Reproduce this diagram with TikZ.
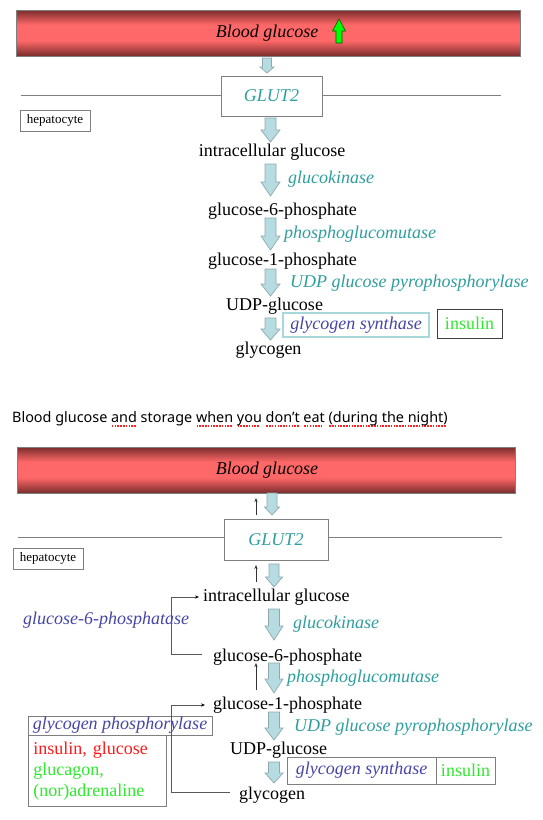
\documentclass[tikz,border=0pt]{standalone}
\usepackage{fontspec}
\setmainfont{Liberation Serif}
\newfontfamily\tms{Liberation Serif}
\newfontfamily\uifont{Noto Sans}
\usetikzlibrary{arrows.meta}
\definecolor{teal2}{HTML}{2E9E9E}
\definecolor{enz}{HTML}{4646A6}
\definecolor{ins}{HTML}{2EEA2E}
\definecolor{inh}{HTML}{FF1A1A}
\definecolor{arrfill}{HTML}{B6DCE1}
\definecolor{arrdraw}{HTML}{8EA9AE}
\definecolor{bardark}{HTML}{7A2C2C}
\definecolor{barlight}{HTML}{FF6868}
\definecolor{boxgray}{HTML}{7F7F7F}
\definecolor{gsblue}{HTML}{A8D8DC}
\definecolor{squig}{HTML}{FF2020}
\pgfdeclareverticalshading{redbar}{100bp}{color(0bp)=(bardark); color(25bp)=(bardark); color(42bp)=(barlight); color(59bp)=(barlight); color(75bp)=(bardark); color(100bp)=(bardark)}
\newcommand\barw[6]{\draw[barr] (#1-#4,#2) -- (#1+#4,#2) -- (#1+#4,#3-#6) -- (#1+#5,#3-#6) -- (#1,#3) -- (#1-#5,#3-#6) -- (#1-#4,#3-#6) -- cycle;}
\newcommand\sq[1]{\setbox0\hbox{#1}\rlap{\raisebox{-4.5pt}{\leaders\hbox to 2.8pt{\hss\textcolor{squig}{\rule{1.5pt}{1.5pt}}\hss}\hskip\wd0}}\box0\relax}
\begin{document}
\begin{tikzpicture}[x=1pt,y=-1pt,
  lbl/.style={inner sep=0pt, font=\tms\fontsize{18}{21}\selectfont},
  enzt/.style={inner sep=0pt, text=teal2, font=\tms\fontsize{18}{21}\selectfont\itshape},
  enzb/.style={inner sep=0pt, text=enz, font=\tms\fontsize{18}{21}\selectfont\itshape},
  barr/.style={fill=arrfill, draw=arrdraw, line width=0.7pt},
  bloodbar/.style={shading=redbar, draw=boxgray, line width=0.5pt, minimum height=46pt, inner sep=0pt, font=\tms\fontsize{18}{21}\selectfont\itshape, text=black},
  gbox/.style={draw=boxgray, fill=white, line width=0.7pt, inner sep=0pt, text=teal2, font=\tms\fontsize{18}{21}\selectfont\itshape},
  hbox/.style={draw=boxgray, line width=0.7pt, inner sep=0pt, minimum width=70pt, minimum height=21pt, font=\tms\fontsize{13}{15}\selectfont},
  memb/.style={draw=boxgray, line width=0.8pt},
  thinarr/.style={draw=black!80, line width=0.7pt, -{Stealth[length=4pt,width=3.2pt]}},
  fb/.style={draw=black!65, line width=0.7pt, -{Stealth[length=4pt,width=3.2pt,black]}}
]
\useasboundingbox (0,0) rectangle (542,820);
\fill[white] (0,0) rectangle (542,820);

% ---------------- top panel ----------------
\node[bloodbar, minimum width=504pt] (bar1) at (268,33) {\hspace*{-2pt}Blood glucose};
\draw[fill=green, draw=green!35!black, line width=0.6pt]
  (336,43) -- (342,43) -- (342,31) -- (345.5,31) -- (339,19) -- (332.5,31) -- (336,31) -- cycle;
\barw{267}{58}{73}{4.5}{7}{6}
\draw[memb] (21,95) -- (501,95);
\node[gbox, minimum width=101pt, minimum height=40pt] (glut1) at (271.5,96) {GLUT2};
\node[hbox] (hep1) at (55,120.5) {hepatocyte};
\barw{270.5}{118}{142}{5.5}{9.5}{12}
\node[lbl] (t_ic) at (272,152) {intracellular glucose};
\barw{270.5}{164}{196}{5.5}{9.5}{14}
\node[enzt, anchor=west] (t_gk) at (288,179) {glucokinase};
\node[lbl] (t_g6p) at (282.5,211) {glucose-6-phosphate};
\barw{270.5}{218}{250}{5.5}{9.5}{14}
\node[enzt, anchor=west] (t_pgm) at (284,234) {phosphoglucomutase};
\node[lbl] (t_g1p) at (282.5,261) {glucose-1-phosphate};
\barw{270.5}{269}{296}{5.5}{9.5}{12}
\node[enzt, anchor=west] (t_ugp) at (290,283) {UDP glucose pyrophosphorylase};
\node[lbl] (t_udp) at (274.5,306) {UDP-glucose};
\barw{270.5}{318}{340}{5.5}{9.5}{11}
\node[enzb, draw=gsblue, line width=1.2pt, minimum width=146pt, minimum height=24pt] (t_gs) at (356,325) {glycogen synthase};
\node[lbl, draw=black!75, line width=0.7pt, minimum width=65pt, minimum height=29pt, text=ins] (t_ins) at (469.5,323.5) {insulin};
\node[lbl] (t_gly) at (268.5,350) {glycogen};

% ---------------- sentence ----------------
\node[inner sep=0pt, anchor=west, font=\uifont\fontsize{14.4}{17}\selectfont] (sent) at (12,419)
  {Blood glucose \sq{and} storage \sq{when} \sq{you} \sq{don’t} \sq{eat} \sq{(during the night)}};

% ---------------- bottom panel ----------------
\node[bloodbar, minimum width=498pt] (bar2) at (266,470) {\hspace*{2pt}Blood glucose};
\barw{272}{493}{515}{5}{7.5}{8}
\coordinate (u0a) at (256,515); \coordinate (u0b) at (256,498);
\draw[thinarr] (u0a) -- (u0b);
\draw[memb] (18,537) -- (502,537);
\node[gbox, minimum width=104pt, minimum height=41pt] (glut2) at (276,539.5) {GLUT2};
\node[hbox] (hep2) at (48,558.5) {hepatocyte};
\coordinate (u1a) at (256,582); \coordinate (u1b) at (256,565);
\draw[thinarr] (u1a) -- (u1b);
\barw{274}{564}{587}{5}{8.5}{10}
\node[lbl, anchor=west] (b_ic) at (203,597) {intracellular glucose};
\barw{274}{609}{640}{5.5}{9}{14}
\node[enzt, anchor=west] (b_gk) at (293,624) {glucokinase};
\node[enzb, anchor=west] (b_g6pase) at (23,620) {glucose-6-phosphatase};
\node[lbl, anchor=west] (b_g6p) at (213,657) {glucose-6-phosphate};
\coordinate (u2a) at (256,690); \coordinate (u2b) at (256,663);
\draw[thinarr] (u2a) -- (u2b);
\barw{274}{663}{693}{5.5}{9}{14}
\node[enzt, anchor=west] (b_pgm) at (287,678) {phosphoglucomutase};
\node[lbl, anchor=west] (b_g1p) at (213,705) {glucose-1-phosphate};
\barw{274}{712}{740}{5.5}{9}{12}
\node[enzt, anchor=west] (b_ugp) at (294,727) {UDP glucose pyrophosphorylase};
\node[lbl, anchor=west] (b_udp) at (230,750) {UDP-glucose};
\barw{274}{762}{783}{5.5}{9}{10}
\node[enzb, draw=boxgray, line width=0.7pt, minimum width=149pt, minimum height=27pt] (b_gs) at (361.5,770.5) {glycogen synthase};
\node[lbl, draw=boxgray, line width=0.7pt, minimum width=59pt, minimum height=27pt, text=ins] (b_ins) at (465.5,770.5) {insulin};
\node[lbl, anchor=west] (b_gly) at (239,795) {glycogen};

% glycogen phosphorylase + regulators
\node[enzb, draw=boxgray, line width=0.7pt, minimum width=184pt, minimum height=19pt] (b_gp) at (120,725.5) {glycogen phosphorylase};
\node[lbl, draw=boxgray, line width=0.7pt, anchor=north west, minimum width=138pt, minimum height=71pt, inner xsep=5pt, align=left, text width=128pt] (b_reg) at (28,735)
  {\textcolor{inh}{insulin, glucose}\\\textcolor{ins}{glucagon,}\\\textcolor{ins}{(nor)adrenaline}};

% feedback connectors
\draw[fb] ([xshift=-11pt,yshift=3pt]b_g6p.west) -- ++(-31,0) |- ([xshift=-4pt]b_ic.west);
\draw[fb] ([xshift=-9pt,yshift=3pt]b_gly.west) -- ++(-59,0) |- ([xshift=-8pt]b_g1p.west);
\end{tikzpicture}
\end{document}
